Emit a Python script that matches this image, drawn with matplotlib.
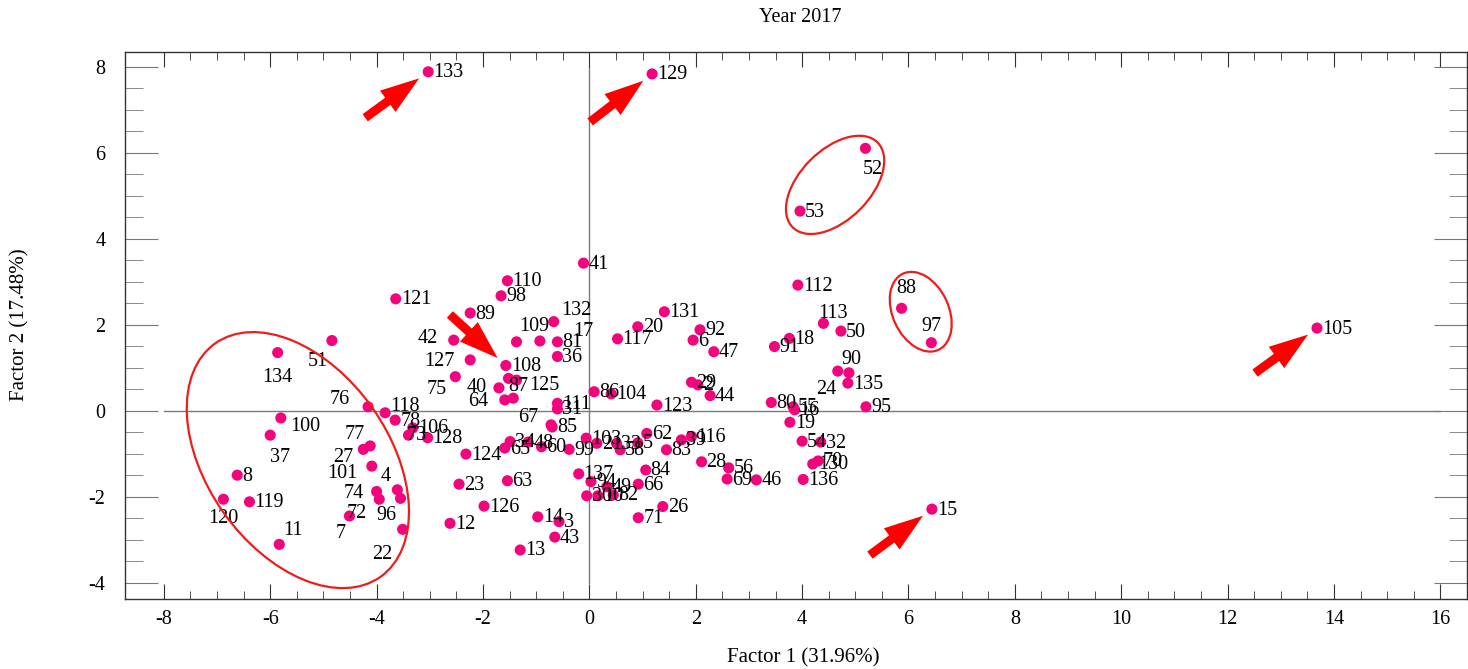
import numpy as np
import matplotlib
matplotlib.use("Agg")
import matplotlib.pyplot as plt
from matplotlib.patches import Ellipse
from matplotlib.transforms import ScaledTranslation

plt.rcParams['font.family'] = ['Liberation Serif', 'DejaVu Serif']
plt.rcParams['axes.unicode_minus'] = False

labels = ['133', '129', '52', '53', '105', '15', '88', '97', '112', '113',
          '50', '18', '91', '90', '24', '135', '80', '55', '16', '19',
          '54', '32', '70', '130', '136', '95', '46', '41', '132', '109',
          '17', '81', '36', '110', '98', '89', '42', '127', '108', '75',
          '40', '87', '125', '64', '', '111', '31', '86', '104', '123',
          '117', '20', '131', '92', '6', '47', '29', '2', '44', '62',
          '103', '21', '33', '58', '5', '83', '39', '116', '28', '56',
          '69', '84', '66', '26', '71', '137', '94', '49', '30', '10',
          '82', '99', '60', '34', '48', '65', '85', '67', '124', '23',
          '63', '126', '12', '14', '3', '43', '13', '128', '73', '106',
          '78', '118', '121', '76', '51', '134', '100', '37', '77', '27',
          '101', '4', '74', '96', '7', '72', '22', '8', '119', '120', '11']

f1 = [-3.03, 1.18, 5.19, 3.96, 13.68, 6.44, 5.87, 6.43, 3.92, 4.40,
      4.73, 3.76, 3.48, 4.67, 4.88, 4.86, 3.42, 3.83, 3.86, 3.77,
      4.00, 4.35, 4.30, 4.20, 4.02, 5.20, 3.14, -0.11, -0.67, -1.37,
      -0.93, -0.60, -0.60, -1.54, -1.66, -2.24, -2.55, -2.24, -1.57, -2.52,
      -1.70, -1.52, -1.37, -1.59, -1.43, -0.60, -0.60, 0.09, 0.41, 1.27,
      0.53, 0.91, 1.41, 2.08, 1.95, 2.34, 1.92, 2.04, 2.27, 1.08,
      -0.06, 0.14, 0.51, 0.58, 0.91, 1.45, 1.73, 1.92, 2.11, 2.62,
      2.59, 1.06, 0.92, 1.38, 0.92, -0.20, 0.03, 0.33, -0.05, 0.16,
      0.45, -0.38, -0.90, -1.49, -1.15, -1.59, -0.70, -0.72, -2.32, -2.45,
      -1.54, -1.98, -2.62, -0.97, -0.57, -0.65, -1.30, -3.04, -3.40, -3.32,
      -3.65, -3.84, -3.64, -4.16, -4.84, -5.86, -5.80, -6.00, -4.12, -4.25,
      -4.09, -3.61, -4.00, -3.55, -3.95, -4.51, -3.51, -6.62, -6.39, -6.88, -5.83]

f2 = [7.88, 7.83, 6.10, 4.64, 1.92, -2.29, 2.38, 1.58, 2.92, 2.03,
      1.85, 1.68, 1.49, 0.92, 0.88, 0.64, 0.19, 0.09, 0.02, -0.27,
      -0.71, -0.73, -1.17, -1.24, -1.60, 0.09, -1.61, 3.43, 2.07, 1.60,
      1.62, 1.60, 1.26, 3.02, 2.67, 2.27, 1.64, 1.18, 1.05, 0.79,
      0.53, 0.75, 0.71, 0.25, 0.29, 0.17, 0.04, 0.44, 0.39, 0.13,
      1.67, 1.95, 2.30, 1.88, 1.64, 1.37, 0.66, 0.60, 0.35, -0.53,
      -0.64, -0.76, -0.76, -0.91, -0.75, -0.91, -0.68, -0.60, -1.19, -1.33,
      -1.59, -1.38, -1.71, -2.23, -2.49, -1.47, -1.65, -1.77, -1.98, -1.98,
      -1.96, -0.90, -0.84, -0.72, -0.73, -0.87, -0.38, -0.33, -1.01, -1.71,
      -1.63, -2.22, -2.62, -2.47, -2.58, -2.94, -3.24, -0.63, -0.57, -0.40,
      -0.22, -0.05, 2.60, 0.09, 1.63, 1.35, -0.17, -0.57, -0.82, -0.90,
      -1.29, -1.84, -1.88, -2.04, -2.06, -2.45, -2.76, -1.50, -2.12, -2.06, -3.11]

# labels not placed to the right of their point (offset of label centre, pixels)
label_pos = {'52': (7, -21), '88': (5, 20), '97': (0, 16), '113': (10, 10),
             '90': (14, 12), '24': (-23, -17), '132': (23, 11), '109': (18, 15),
             '17': (43, 9), '42': (-26, 2), '127': (-31, -2), '75': (-19, -13),
             '40': (-22, 0), '64': (-27, -2), '87': (10, -8), '125': (28, -5),
             '134': (0, -25), '51': (-14, -21), '76': (-28, 7), '118': (20, 6),
             '73': (8, 0), '100': (24, -9), '37': (10, -22), '77': (-15, 11),
             '27': (-20, -8), '101': (-29, -7), '4': (-12, 13), '74': (-23, -2),
             '96': (-14, -17), '72': (7, 3), '7': (-39, -34), '22': (-20, -25),
             '120': (0, -19), '11': (14, 14), '67': (-23, 7)}

# arrows: target point -> tail offset in pixels
arrows = {'133': (-63, -46), '129': (-62, -48), '108': (-56, 51),
          '105': (-62, -45), '15': (-62, -46)}

fig = plt.figure(figsize=(14.68, 6.69), dpi=100)
ax = fig.add_axes([125 / 1468, 70 / 669, 1342 / 1468, 547 / 669])

ax.plot([-8, 16], [0, 0], color='#7a7a7a', lw=1, zorder=1)
ax.plot([0, 0], [-4, 8], color='#7a7a7a', lw=1, zorder=1)

ax.scatter(f1, f2, s=64, color='#F2057C', edgecolors='none', zorder=3)

for lab, x, y in zip(labels, f1, f2):
    if not lab:
        continue
    if lab in label_pos:
        ax.annotate(lab, (x, y), xytext=label_pos[lab], textcoords='offset pixels',
                    ha='center', va='center', fontsize=14.5, zorder=4)
    else:
        ax.annotate(lab, (x, y), xytext=(5, -1), textcoords='offset pixels',
                    ha='left', va='center', fontsize=14.5, zorder=4)

for lab, off in arrows.items():
    i = labels.index(lab)
    ax.annotate('', xy=(f1[i], f2[i]), xytext=off, textcoords='offset pixels',
                arrowprops=dict(arrowstyle='simple,head_length=1.4,head_width=0.95,tail_width=0.32',
                                mutation_scale=20, color='#FF0000', lw=0,
                                shrinkA=0, shrinkB=8), zorder=5)

# red rings around groups (centre in data units, semi-axes in pixels)
rings = [((-5.48, -1.15), 143, 91, -54.7),
         ((4.62, 5.25), 60, 35, 45),
         ((6.23, 2.30), 42, 28, -65)]
for (cx, cy), a, b, ang in rings:
    tr = fig.dpi_scale_trans + ScaledTranslation(cx, cy, ax.transData)
    ax.add_patch(Ellipse((0, 0), 2 * a / 100, 2 * b / 100, angle=ang,
                         transform=tr, fill=False, ec='#EE1D1D', lw=1.6, zorder=5))

ax.set_xlim(-8.73, 16.5)
ax.set_ylim(-4.38, 8.34)
ax.set_xticks(np.arange(-8, 17, 2))
ax.set_xticks(np.arange(-8, 16.1, 0.5), minor=True)
ax.set_yticks(np.arange(-4, 9, 2))
ax.set_yticks(np.arange(-4, 8.1, 0.5), minor=True)
ax.tick_params(axis='x', which='both', direction='in', top=True, bottom=True,
               labelsize=14.5, pad=8, color='#333333')
ax.tick_params(axis='x', which='major', length=11)
ax.tick_params(axis='x', which='minor', length=6)
ax.tick_params(axis='y', which='both', direction='in', left=True, right=True,
               labelsize=14.5, pad=14, color='#777777')
ax.tick_params(axis='y', which='major', length=24)
ax.tick_params(axis='y', which='minor', length=13)
for s in ax.spines.values():
    s.set_color('#333333')
    s.set_linewidth(1)

fig.text(800 / 1468, 1 - 18 / 669, 'Year 2017', ha='center', va='center', fontsize=14.5)
fig.text(803 / 1468, 1 - 658 / 669, 'Factor 1 (31.96%)', ha='center', va='center', fontsize=15)
fig.text(20 / 1468, 1 - 325 / 669, 'Factor 2 (17.48%)', ha='center', va='center',
         rotation=90, fontsize=15)

fig.savefig('out.png', dpi=100)
